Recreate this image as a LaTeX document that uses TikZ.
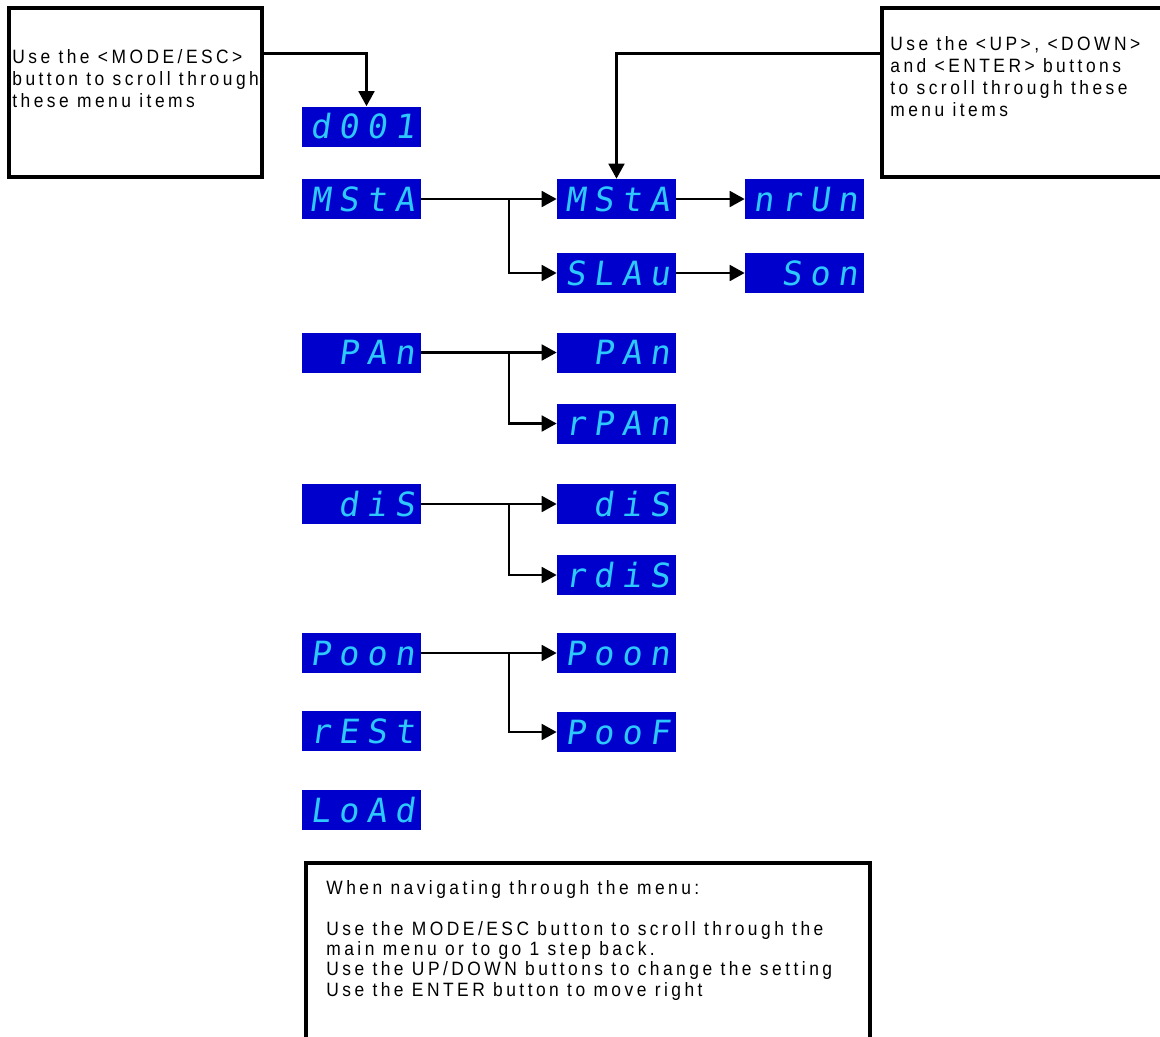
\documentclass[tikz,border=0pt]{standalone}
\usepackage{fontspec}
\usepackage{tikz}
\usetikzlibrary{arrows.meta, positioning, calc}
\newfontfamily\notefont[LetterSpace=18, FakeStretch=0.9]{Liberation Sans}
\newfontfamily\segfont[LetterSpace=24, FakeSlant=0.14]{DejaVu Sans Mono}
\definecolor{lcdblue}{RGB}{0,0,204}
\definecolor{segcyan}{RGB}{45,200,255}

\tikzset{
    lcd/.style={fill=lcdblue, text=segcyan, minimum width=2.38cm, minimum height=0.8cm,
        inner sep=0pt, text width=2.12cm, align=right, text height=14pt, text depth=0pt,
        font=\segfont\fontsize{19}{19}\selectfont},
    notebox/.style={draw, line width=1.8pt, inner sep=0pt},
    notetext/.style={anchor=north west, inner sep=0pt, align=left,
        font=\notefont\fontsize{11}{12.6}\selectfont},
    flow/.style={line width=1.3pt, -{Triangle[length=8.5pt, width=9pt]}}
}

\begin{document}
\begin{tikzpicture}[x=0.02cm, y=-0.02cm]
    \useasboundingbox (0,0) rectangle (1160,1036);

    % Hint boxes
    \node[notebox, minimum width=5.06cm, minimum height=3.38cm] (escbox) at (135.5,92.5) {};
    \node[notetext] (esctext) at (12,49) {Use the <MODE/ESC>\\button to scroll through\\these menu items};

    \node[notebox, minimum width=5.86cm, minimum height=3.38cm] (keybox) at (1028.5,92.5) {};
    \node[notetext] (keytext) at (890,36) {Use the <UP>, <DOWN>\\and <ENTER> buttons\\to scroll through these\\menu items};

    % Main menu
    \node[lcd] (addr) at (361.5,126.5) {d001};
    \node[lcd] (msta) at (361.5,199) {MStA};
    \node[lcd] (pan)  at (361.5,352.5) {PAn};
    \node[lcd] (dis)  at (361.5,504) {diS};
    \node[lcd] (poon) at (361.5,653) {Poon};
    \node[lcd] (rest) at (361.5,731) {rESt};
    \node[lcd] (load) at (361.5,810) {LoAd};

    % Sub menus
    \node[lcd] (mstaset) at (616.5,199) {MStA};
    \node[lcd] (slav)    at (616.5,273) {SLAu};
    \node[lcd] (nrun)    at (804.5,199) {nrUn};
    \node[lcd] (son)     at (804.5,273) {Son};
    \node[lcd] (panset)  at (616.5,352.5) {PAn};
    \node[lcd] (rpan)    at (616.5,423.5) {rPAn};
    \node[lcd] (disset)  at (616.5,504) {diS};
    \node[lcd] (rdis)    at (616.5,575) {rdiS};
    \node[lcd] (poonset) at (616.5,653) {Poon};
    \node[lcd] (poof)    at (616.5,732) {PooF};

    % Pointers from the hints
    \draw[flow] ([yshift=-0.94cm]escbox.north east) -| ([xshift=0.1cm]addr.north);
    \draw[flow] ([yshift=-0.94cm]keybox.north west) -| (mstaset.north);

    % Branches
    \draw[flow] (msta.east) -- (mstaset.west);
    \draw[flow] ($(msta.east)!0.65!(mstaset.west)$) |- (slav.west);
    \draw[flow] (mstaset.east) -- (nrun.west);
    \draw[flow] (slav.east) -- (son.west);

    \draw[flow] (pan.east) -- (panset.west);
    \draw[flow] ($(pan.east)!0.65!(panset.west)$) |- (rpan.west);

    \draw[flow] (dis.east) -- (disset.west);
    \draw[flow] ($(dis.east)!0.65!(disset.west)$) |- (rdis.west);

    \draw[flow] (poon.east) -- (poonset.west);
    \draw[flow] ($(poon.east)!0.65!(poonset.west)$) |- (poof.west);

    % Help box
    \node[notebox, minimum width=11.28cm, minimum height=3.94cm] (helpbox) at (588,961.5) {};
    \node[notetext, font=\notefont\fontsize{11}{11.6}\selectfont] (helptext) at (326,880)
        {When navigating through the menu:\\[11.6pt]Use the MODE/ESC button to scroll through the\\main menu or to go 1 step back.\\Use the UP/DOWN buttons to change the setting\\Use the ENTER button to move right};
\end{tikzpicture}
\end{document}
